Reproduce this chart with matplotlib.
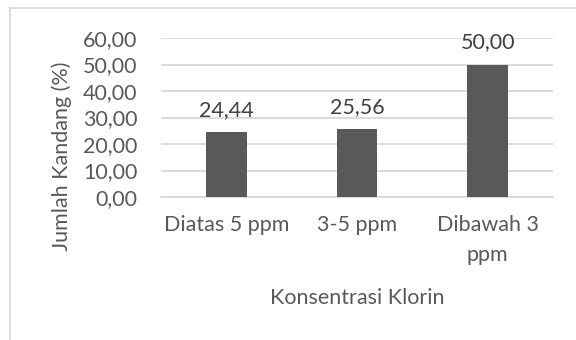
import matplotlib
matplotlib.use("Agg")
import matplotlib.pyplot as plt
from matplotlib.lines import Line2D

categories = ["Diatas 5 ppm", "3-5 ppm", "Dibawah 3\nppm"]
values = [24.44, 25.56, 50.00]
yticks = [0, 10, 20, 30, 40, 50, 60]
ylabel = "Jumlah Kandang (%)"
xlabel = "Konsentrasi Klorin"

W, H = 576, 340
plt.rcParams["font.family"] = ["Lato", "DejaVu Sans"]
text_col = "#595959"
grid_col = "#d9d9d9"
fs = 15.5

fig = plt.figure(figsize=(W / 100, H / 100), dpi=100)
ax = fig.add_axes([161 / W, 1 - 197 / H, (553 - 161) / W, (197 - 38) / H])

x = list(range(len(categories)))
ax.bar(x, values, width=0.31, color="#595959", zorder=3)

def fmt(v):
    return f"{v:.2f}".replace(".", ",")

for xi, v in zip(x, values):
    ax.annotate(fmt(v), (xi, v), xytext=(0, 16), textcoords="offset points",
                ha="center", va="center", fontsize=fs, color="#404040")

ax.set_xlim(-0.5, len(categories) - 0.5)
ax.set_ylim(0, 60)
ax.set_yticks(yticks)
ax.set_yticklabels([fmt(t) for t in yticks], fontsize=fs, color=text_col)
ax.set_xticks(x)
ax.set_xticklabels(categories, fontsize=fs, color=text_col, linespacing=1.6)
ax.tick_params(axis="y", length=0, pad=17)
ax.tick_params(axis="x", length=0, pad=13)
ax.yaxis.grid(True, color=grid_col, linewidth=1.3, zorder=0)
for s in ["top", "right", "left"]:
    ax.spines[s].set_visible(False)
ax.spines["bottom"].set_color(grid_col)
ax.spines["bottom"].set_linewidth(1.3)

fig.text(62 / W, 1 - 156 / H, ylabel, rotation=90, ha="center", va="center",
         fontsize=fs, color=text_col)
fig.text(357 / W, 1 - 298 / H, xlabel, ha="center", va="center",
         fontsize=fs, color=text_col)

# outer chart frame (top and left edges)
fig.add_artist(Line2D([10 / W, 10 / W], [0, 1 - 8 / H], color=grid_col, lw=1.3,
                      transform=fig.transFigure))
fig.add_artist(Line2D([10 / W, 1], [1 - 8 / H, 1 - 8 / H], color=grid_col, lw=1.3,
                      transform=fig.transFigure))

fig.savefig("out.png", dpi=100, facecolor="white")
